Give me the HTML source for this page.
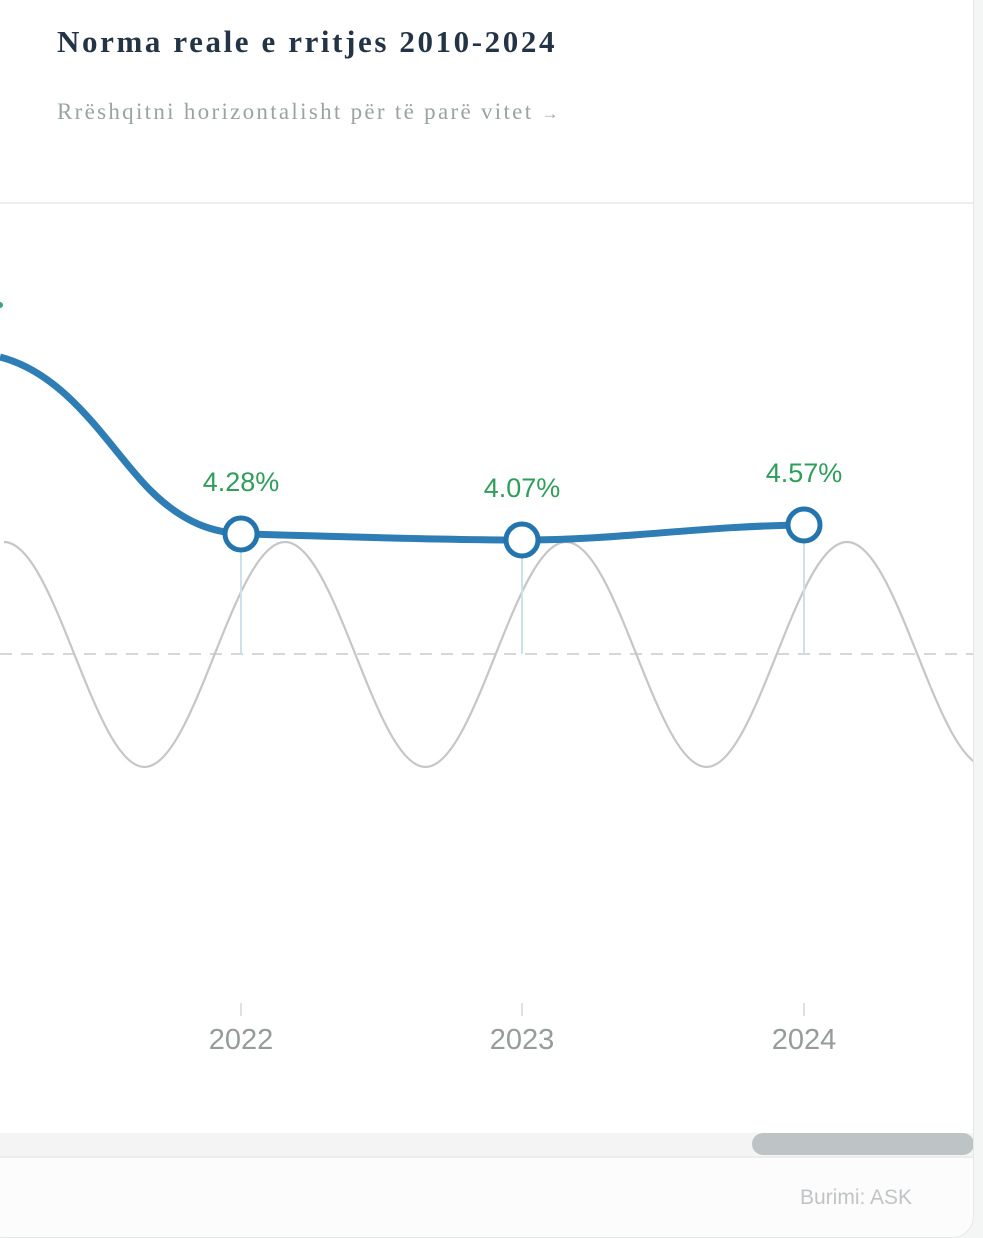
<!DOCTYPE html>
<html><head><meta charset="utf-8"><style>
body{margin:0;width:983px;height:1238px;background:#f4f5f5;overflow:hidden;font-family:"Liberation Sans",sans-serif}
.card{position:absolute;left:-20px;top:-20px;width:992px;height:1256px;background:#fff;border:1px solid #e6e8e8;border-radius:22px;overflow:hidden}
.t{position:absolute;left:76px;top:43px;font-family:"Liberation Serif",serif;font-weight:bold;font-size:31px;letter-spacing:2.6px;color:#243447}
.s{position:absolute;left:76px;top:118px;font-family:"Liberation Serif",serif;font-size:23px;letter-spacing:2.3px;color:#9aa3a3}
.hr{position:absolute;left:0;top:221px;width:100%;height:2px;background:#eceeee}
.sb{position:absolute;left:0;top:1152px;width:100%;height:23px;background:#f4f4f4}
.th{position:absolute;left:771px;top:1152px;width:222px;height:22px;border-radius:11px;background:#bec3c6}
.ft{position:absolute;left:0;top:1175px;width:100%;height:100px;background:#fcfcfc;border-top:2px solid #ececec}
.src{position:absolute;left:819px;top:1205px;font-size:21px;color:#c0c4c6}
</style></head><body>
<div class="card">
<div class="t">Norma reale e rritjes 2010-2024</div>
<div class="s">Rrëshqitni horizontalisht për të parë vitet <span style="font-size:17px">→</span></div>
<div class="hr"></div>
<div class="sb"></div><div class="th"></div>
<div class="ft"></div>
<div class="src">Burimi: ASK</div>
</div>
<svg width="983" height="1238" style="position:absolute;left:0;top:0">
<line x1="0" y1="654" x2="973" y2="654" stroke="#d5d8d8" stroke-width="2" stroke-dasharray="12,9"/>
<clipPath id="c"><rect x="0" y="0" width="973" height="1238"/></clipPath>
<path d="M4,542 C55,542 94,767 144.5,767 C195,767 234,542 285,542 C336,542 375,767 425.5,767 C476,767 515,542 566,542 C617,542 656,767 706.5,767 C757,767 796,542 847,542 C898,542 937,767 987.5,767" fill="none" stroke="#c6c6c6" stroke-width="2.2" clip-path="url(#c)"/>
<g stroke="#cfe0ea" stroke-width="2">
<line x1="241" y1="534" x2="241" y2="654"/><line x1="522" y1="540" x2="522" y2="654"/><line x1="804" y1="525" x2="804" y2="654"/>
<line x1="241" y1="1003" x2="241" y2="1016" stroke="#e0e2e2"/><line x1="522" y1="1003" x2="522" y2="1016" stroke="#e0e2e2"/><line x1="804" y1="1003" x2="804" y2="1016" stroke="#e0e2e2"/>
</g>
<path d="M0,357 C70,375 110,450 150,490 C185,525 215,532 241,534 C330,536 430,540 522,540 C620,540 700,526 804,525" fill="none" stroke="#2e7db5" stroke-width="7"/>
<circle cx="0" cy="305" r="3" fill="#3aa57a"/>
<g fill="#fff" stroke="#2474ad" stroke-width="5">
<circle cx="241" cy="534" r="16"/><circle cx="522" cy="540" r="16"/><circle cx="804" cy="525" r="16"/>
</g>
<g font-family="Liberation Sans,sans-serif" font-size="27" fill="#2f9e5b" text-anchor="middle">
<text x="241" y="491">4.28%</text><text x="522" y="497">4.07%</text><text x="804" y="482">4.57%</text>
</g>
<g font-family="Liberation Sans,sans-serif" font-size="29" fill="#959c9c" text-anchor="middle">
<text x="241" y="1049">2022</text><text x="522" y="1049">2023</text><text x="804" y="1049">2024</text>
</g>
</svg>
</body></html>
